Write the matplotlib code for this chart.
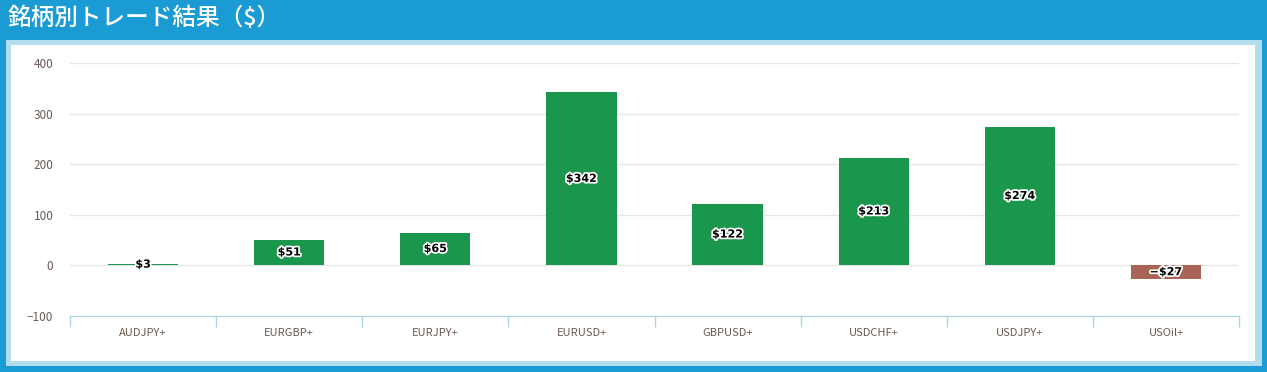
import matplotlib
matplotlib.use("Agg")
from matplotlib import pyplot as plt
from matplotlib.patches import Rectangle
import matplotlib.patheffects as pe
import numpy as np

plt.rcParams['font.family'] = ['Noto Sans CJK JP', 'DejaVu Sans']

# datos
symbols = ["AUDJPY+", "EURGBP+", "EURJPY+", "EURUSD+", "GBPUSD+", "USDCHF+", "USDJPY+", "USOil+"]
profit = [3, 51, 65, 342, 122, 213, 274, -27]
yticks = [-100, 0, 100, 200, 300, 400]

green = "#1b964d"
red = "#a86454"
blue = "#1b9bd4"

fig = plt.figure(figsize=(12.67, 3.72), dpi=100)
fig.patch.set_facecolor(blue)
W, H = 1267, 372
# marco claro y panel blanco
fig.patches.append(Rectangle((6 / W, 1 - 366 / H), 1256 / W, 326 / H, transform=fig.transFigure,
                             facecolor="#b3ddee", edgecolor="none", zorder=-2))
fig.patches.append(Rectangle((11 / W, 1 - 361 / H), 1244 / W, 316 / H, transform=fig.transFigure,
                             facecolor="white", edgecolor="none", zorder=-1))
fig.text(8 / W, 1 - 18 / H, "銘柄別トレード結果（$）", color="white", fontsize=17,
         fontweight="medium", va="center", ha="left")

ax = fig.add_axes([70 / W, 1 - 316 / H, 1169 / W, 253 / H])
ax.set_zorder(1)
ax.set_facecolor("none")
x = np.arange(len(symbols))
colors = [green if v >= 0 else red for v in profit]
bars = ax.bar(x, profit, width=0.48, color=colors, zorder=2)

for b, v in zip(bars, profit):
    lab = "$%d" % v if v >= 0 else "−$%d" % abs(v)
    t = ax.text(b.get_x() + b.get_width() / 2, v / 2, lab, ha="center", va="center",
                fontsize=8, fontweight="bold", color="black", zorder=3, family="DejaVu Sans")
    t.set_path_effects([pe.withStroke(linewidth=2.5, foreground="white")])

ax.set_xlim(-0.5, len(symbols) - 0.5)
ax.set_ylim(-100, 400)
ax.set_yticks(yticks)
ax.grid(axis="y", color="#e6e6e6", lw=1, zorder=0)
ax.set_xticks(x)
ax.set_xticklabels(symbols)
ax.set_xticks(np.arange(-0.5, len(symbols), 1), minor=True)
ax.tick_params(axis="x", which="major", length=0, pad=9, labelsize=8, labelcolor="#6a5a55")
ax.tick_params(axis="x", which="minor", length=8, color="#a8d8e8", width=1)
ax.tick_params(axis="y", length=0, pad=12, labelsize=8.5, labelcolor="#6a5a55")
for s in ["top", "right", "left"]:
    ax.spines[s].set_visible(False)
ax.spines["bottom"].set_color("#a8d8e8")
ax.spines["bottom"].set_linestyle((0, (2, 1)))

fig.savefig("out.png", dpi=100, facecolor=fig.get_facecolor())
